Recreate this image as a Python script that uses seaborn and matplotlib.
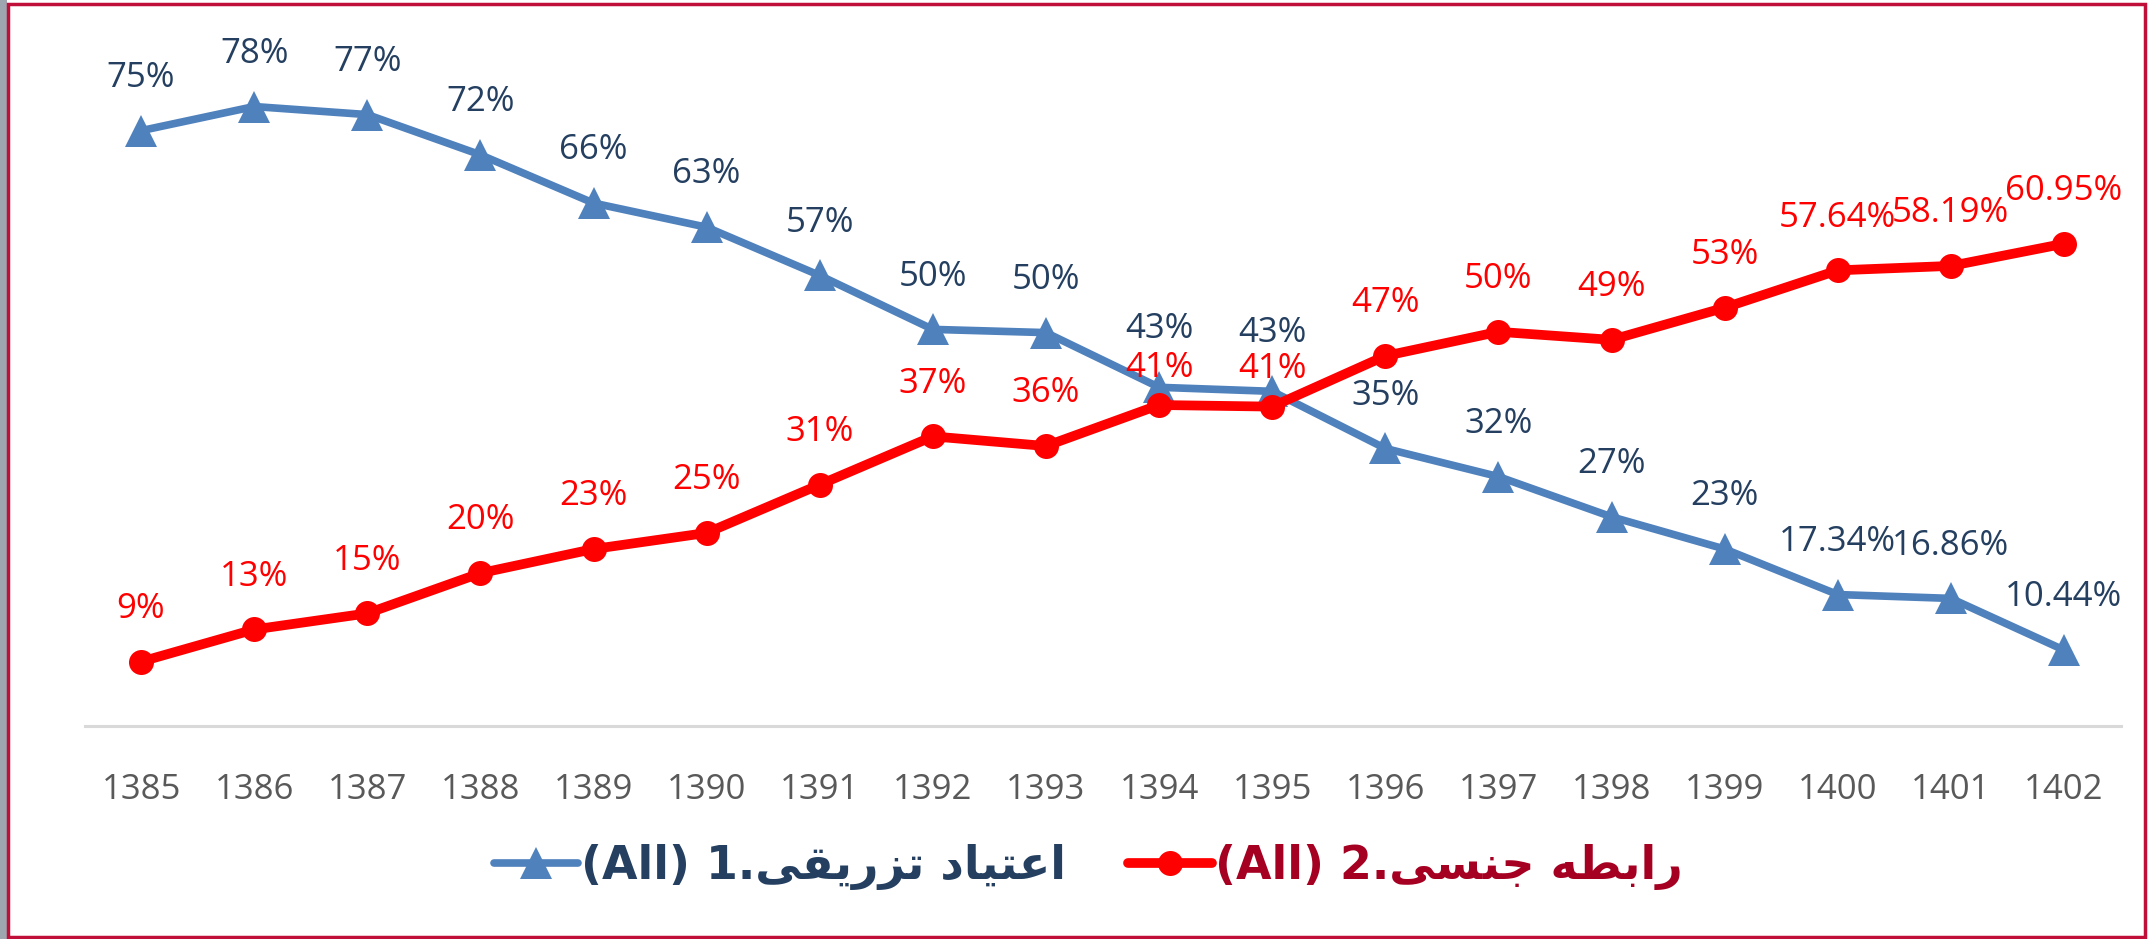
import numpy as np
import pandas as pd
import seaborn as sns
import matplotlib.pyplot as plt
from matplotlib.lines import Line2D
from matplotlib.patches import Rectangle

# data
years = ["1385", "1386", "1387", "1388", "1389", "1390", "1391", "1392", "1393",
         "1394", "1395", "1396", "1397", "1398", "1399", "1400", "1401", "1402"]
injecting = [75, 78, 77, 72, 66, 63, 57, 50.3, 49.9, 43.1, 42.6, 35.5, 32, 27, 23, 17.34, 16.86, 10.44]
injecting_labels = ["75%", "78%", "77%", "72%", "66%", "63%", "57%", "50%", "50%",
                    "43%", "43%", "35%", "32%", "27%", "23%", "17.34%", "16.86%", "10.44%"]
sexual = [9, 13, 15, 20, 23, 25, 31, 37, 35.8, 40.9, 40.7, 47, 50, 49, 53, 57.64, 58.19, 60.95]
sexual_labels = ["9%", "13%", "15%", "20%", "23%", "25%", "31%", "37%", "36%",
                 "41%", "41%", "47%", "50%", "49%", "53%", "57.64%", "58.19%", "60.95%"]

# legend texts, written in visual (left-to-right, shaped) order since matplotlib
# does no bidi / arabic shaping:  "1.اعتیاد تزریقی (All)"  and  "2.رابطه جنسی (All)"
name1 = "(All) 1." + "\uFBFD\uFED8\uFBFE\uFEAD\uFEB0\uFE97" + " " + "\uFEA9\uFE8E\uFBFF\uFE98\uFECB\uFE8D"
name2 = "(All) 2." + "\uFBFD\uFEB4\uFEE8\uFE9F" + " " + "\uFEEA\uFEC4\uFE91\uFE8D\uFEAD"

blue = "#4F81BD"
navy = "#243F60"
red = "#FF0000"
darkred = "#A50021"

df = pd.DataFrame({"pos": np.arange(len(years)), "inj": injecting, "sex": sexual})

sns.set_style("white")
plt.rcParams["font.family"] = ["Open Sans", "DejaVu Sans"]

fig = plt.figure(figsize=(21.48, 9.39), dpi=100)
ax = fig.add_axes([84.5 / 2148, 1 - 726 / 939, (2120.5 - 84.5) / 2148, (726 - 10) / 939])

sns.lineplot(data=df, x="pos", y="inj", ax=ax, color=blue, lw=5.5, marker="^",
             markersize=23, markeredgewidth=0, zorder=3)
sns.lineplot(data=df, x="pos", y="sex", ax=ax, color=red, lw=7, marker="o",
             markersize=18, markeredgewidth=0, zorder=4)

for i in range(len(years)):
    # where the two lines nearly touch, push the labels apart a little
    close = 0 < injecting[i] - sexual[i] < 5
    ax.annotate(injecting_labels[i], (i, injecting[i]), xytext=(0, 42 if close else 38),
                textcoords="offset points", ha="center", va="center", fontsize=25,
                color=navy, zorder=5)
    ax.annotate(sexual_labels[i], (i, sexual[i]), xytext=(0, 27 if close else 38),
                textcoords="offset points", ha="center", va="center", fontsize=25,
                color=red, zorder=5)

ax.set_xlim(-0.5, len(years) - 0.5)
ax.set_ylim(1, 90)
ax.set_xticks(range(len(years)))
ax.set_xticklabels(years, fontsize=25, color="#595959")
ax.tick_params(axis="x", length=0, pad=34)
ax.set_yticks([])
ax.set_xlabel("")
ax.set_ylabel("")
for s in ["top", "right", "left"]:
    ax.spines[s].set_visible(False)
ax.spines["bottom"].set_color("#D9D9D9")
ax.spines["bottom"].set_linewidth(2.2)

handles = [Line2D([], [], color=blue, lw=5.5, marker="^", markersize=23, markeredgewidth=0),
           Line2D([], [], color=red, lw=7, marker="o", markersize=18, markeredgewidth=0)]
leg = fig.legend(handles, [name1, name2], loc="center", bbox_to_anchor=(0.5065, 0.077), ncol=2,
                 frameon=False, handlelength=1.85, handletextpad=0.05, columnspacing=1.35,
                 prop={"family": "DejaVu Sans", "weight": "bold", "size": 33})
leg.get_texts()[0].set_color(navy)
leg.get_texts()[1].set_color(darkred)

# screenshot frame
fig.patches.append(Rectangle((0, 0), 7 / 2148, 1, transform=fig.transFigure,
                             facecolor="#9EA6B0", edgecolor="none"))
fig.patches.append(Rectangle((8 / 2148, 2 / 939), 2137 / 2148, 933 / 939, transform=fig.transFigure,
                             facecolor="none", edgecolor="#C0103A", lw=2.5))

fig.savefig("out.png", dpi=100)
